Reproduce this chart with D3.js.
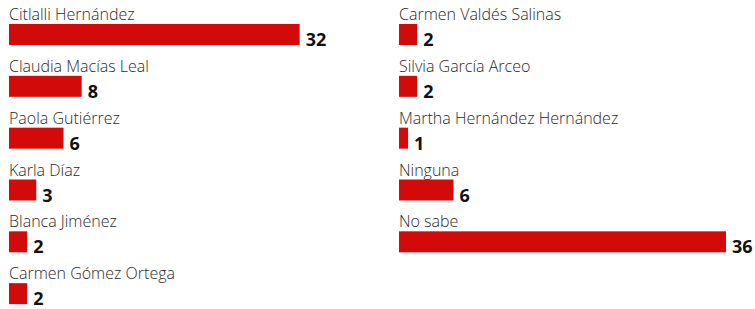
<!DOCTYPE html>
<html>
<head>
<meta charset="utf-8">
<script src="https://cdn.jsdelivr.net/npm/d3@7"></script>
<style>
    body { margin: 0; background: #fff; }
    .name { font-family: "Open Sans", sans-serif; font-weight: 300; font-size: 16px; fill: #2a2a2a; }
    .value { font-family: "Open Sans", sans-serif; font-weight: 700; font-size: 18px; fill: #111; }
</style>
</head>
<body>
<div id="chart"></div>
<script>
// Data
let leftNames = ["Citlalli Hernández", "Claudia Macías Leal", "Paola Gutiérrez", "Karla Díaz", "Blanca Jiménez", "Carmen Gómez Ortega"];
let leftValues = [32, 8, 6, 3, 2, 2];
let rightNames = ["Carmen Valdés Salinas", "Silvia García Arceo", "Martha Hernández Hernández", "Ninguna", "No sabe"];
let rightValues = [2, 2, 1, 6, 36];

let width = 755, height = 309;

let svg = d3.select("#chart").append("svg")
    .attr("width", width)
    .attr("height", height);

// Shared scales
let x = d3.scaleLinear()
    .domain([0, 36])
    .range([0, 327]);

let y = d3.scaleBand()
    .domain(d3.range(6))
    .range([3, 314]);

let barH = 21;

function drawColumn(names, values, left) {
    let data = names.map((n, i) => ({name: n, value: values[i], i: i}));

    let col = svg.append("g")
        .attr("transform", `translate(${left}, 0)`);

    let rows = col.selectAll("g.row")
        .data(data)
        .enter()
        .append("g")
        .attr("class", "row")
        .attr("transform", (d) => `translate(0, ${y(d.i)})`);

    // category name above the bar
    rows.append("text")
        .attr("class", "name")
        .attr("x", 0)
        .attr("y", 17)
        .text((d) => d.name);

    rows.append("rect")
        .attr("x", 0)
        .attr("y", 21)
        .attr("width", (d) => x(d.value))
        .attr("height", barH)
        .attr("fill", "#d20a0a");

    // value at the end of the bar
    rows.append("text")
        .attr("class", "value")
        .attr("x", (d) => x(d.value) + 6)
        .attr("y", 21 + barH + 1)
        .text((d) => d.value);
}

drawColumn(leftNames, leftValues, 9);
drawColumn(rightNames, rightValues, 399);
</script>
</body>
</html>
